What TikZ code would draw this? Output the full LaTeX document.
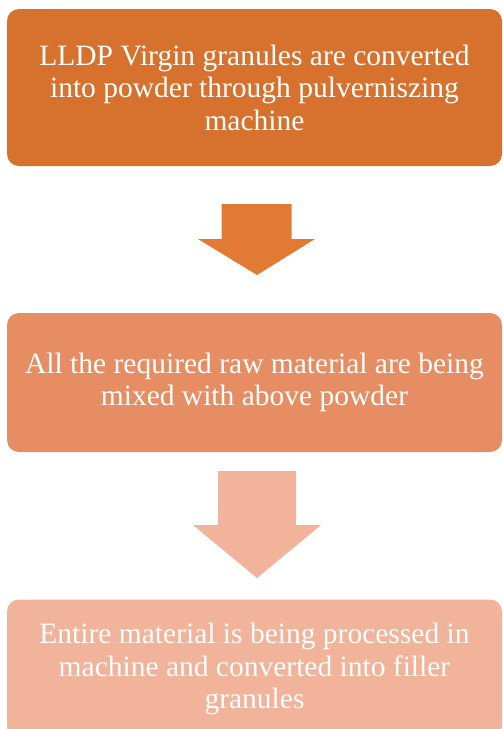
\documentclass[tikz,border=0pt]{standalone}
\usepackage{fontspec}
\setmainfont{Liberation Serif}
\definecolor{stepone}{HTML}{D7712E}
\definecolor{arrowone}{HTML}{E27A33}
\definecolor{steptwo}{HTML}{E68D63}
\definecolor{stepthree}{HTML}{F2B39B}
\begin{document}
\begin{tikzpicture}[
    x=1pt, y=-1pt,
    every node/.style={font=\fontsize{29.5}{32.5}\selectfont},
    stepbox/.style={rectangle, rounded corners=12pt, minimum width=495pt, inner sep=0pt, text=white, align=center}
]
\clip (0,0) rectangle (503,729);
\useasboundingbox (0,0) rectangle (503,729);
\node[stepbox, fill=stepone, minimum height=157pt] (granules) at (254.5,87.5) {LLDP Virgin granules are converted\\into powder through pulverniszing\\machine};
\node[stepbox, fill=steptwo, minimum height=139pt] (mixing) at (254.5,382.5) {All the required raw material are being\\mixed with above powder};
\node[stepbox, fill=stepthree, minimum height=139pt] (filler) at (254.5,669) {Entire material is being processed in\\machine and converted into filler\\granules};

% block arrows
\fill[arrowone] (221.7,204) -- (291.7,204) -- (291.7,239) -- (315,239) -- (257,275) -- (198,239) -- (221.7,239) -- cycle;
\fill[stepthree] (218,471) -- (296,471) -- (296,525) -- (321,525) -- (257,578) -- (193,525) -- (218,525) -- cycle;
\end{tikzpicture}
\end{document}
